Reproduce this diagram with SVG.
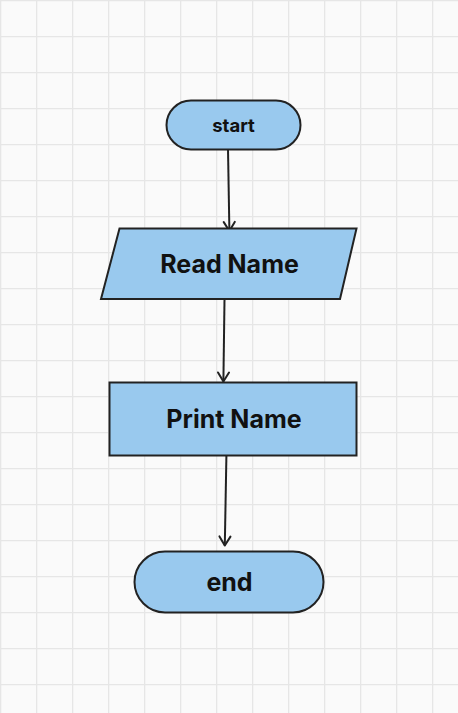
<svg xmlns="http://www.w3.org/2000/svg" width="458" height="713" viewBox="0 0 458 713">
<defs>
<pattern id="grid" x="0" y="0" width="36" height="36" patternUnits="userSpaceOnUse">
<rect width="36" height="36" fill="#fafafa"/>
<path d="M0.5 0V36M0 0.5H36" stroke="#e6e6e6" stroke-width="1.6" fill="none"/>
</pattern>
<marker id="arr" markerWidth="14" markerHeight="14" refX="11" refY="6.5" orient="auto" markerUnits="userSpaceOnUse" viewBox="0 0 14 13">
<path d="M2 1L11 6.5L2 12" fill="none" stroke="#222" stroke-width="2" stroke-linecap="round" stroke-linejoin="round"/>
</marker>
<style>
.shape{fill:#99c9ee;stroke:#222;stroke-width:2}
.lbl{font-family:Inter,"Liberation Sans",sans-serif;font-weight:700;fill:#111;text-anchor:middle}
.conn{stroke:#222;stroke-width:2;fill:none}
</style>
</defs>
<rect width="458" height="713" fill="url(#grid)"/>
<g id="connectors">
<path class="conn" d="M228 149L229.4 231" marker-end="url(#arr)"/>
<path class="conn" d="M224.5 299.5L223.4 381.5" marker-end="url(#arr)"/>
<path class="conn" d="M226.4 455.5L224.8 545.5" marker-end="url(#arr)"/>
</g>
<g id="start">
<rect class="shape" x="166.5" y="100.5" width="134" height="49" rx="24.5"/>
<text class="lbl" x="233.5" y="131.5" font-size="18.5">start</text>
</g>
<g id="read">
<polygon class="shape" points="119.5,228.5 356.5,228.5 340,299 101,299"/>
<text class="lbl" x="229.5" y="273" font-size="25">Read Name</text>
</g>
<g id="print">
<rect class="shape" x="109.5" y="382.5" width="247" height="73"/>
<text class="lbl" x="234" y="428" font-size="25">Print Name</text>
</g>
<g id="end">
<rect class="shape" x="134.5" y="551.5" width="189" height="61" rx="30.5"/>
<text class="lbl" x="229.5" y="591" font-size="25">end</text>
</g>
</svg>
